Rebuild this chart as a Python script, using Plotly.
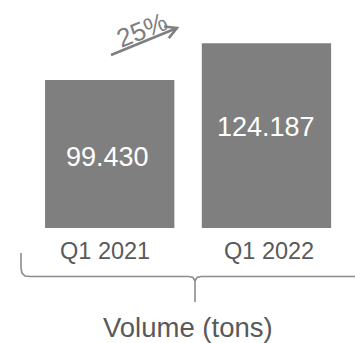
import math
import plotly.graph_objects as go

# Quarterly volume in tons
categories = ["Q1 2021", "Q1 2022"]
volumes = [99430, 124187]
axis_title = "Volume (tons)"

W, H = 355, 343
BAR = "#7f7f7f"
TEXT = "#595959"
LINE = "#8c8c8c"
FONT = "Arial, Liberation Sans, sans-serif"

growth = round((volumes[1] / volumes[0] - 1) * 100)

fig = go.Figure()
fig.add_trace(go.Bar(
    x=categories, y=volumes, width=0.825,
    marker=dict(color=BAR, line=dict(width=0)),
    hoverinfo="skip",
))


def px(x, y):
    """Pixel position on the canvas -> paper coordinates."""
    return x / W, 1 - y / H


def path(points):
    return " ".join(("M" if i == 0 else "L") + f" {px(*p)[0]:.5f},{px(*p)[1]:.5f}"
                    for i, p in enumerate(points))


annotations = []

# value labels inside the bars
value_shift = [(-2, -3), (0, 9)]
for c, v, (sx, sy) in zip(categories, volumes, value_shift):
    annotations.append(dict(
        x=c, y=v / 2, xref="x", yref="y", text=f"{v:,}".replace(",", "."),
        showarrow=False, xshift=sx, yshift=sy, xanchor="center", yanchor="middle",
        font=dict(family=FONT, size=27, color="white"),
    ))

# category labels under the bars
label_dx = [-5, 3]
for c, dx in zip(categories, label_dx):
    annotations.append(dict(
        x=c, y=0, xref="x", yref="y", text=c, showarrow=False,
        xanchor="center", yanchor="middle", yshift=-23, xshift=dx,
        font=dict(family=FONT, size=23.5, color=TEXT),
    ))

# axis caption under the brace
cx, cy = px(188, 327)
annotations.append(dict(
    x=cx, y=cy, xref="paper", yref="paper", text=axis_title, showarrow=False,
    xanchor="center", yanchor="middle",
    font=dict(family=FONT, size=27.5, color=TEXT),
))

# growth label along the arrow
tx, ty = px(142, 30)
annotations.append(dict(
    x=tx, y=ty, xref="paper", yref="paper", text=f"{growth}%", showarrow=False,
    xanchor="center", yanchor="middle",
    textangle=-22, font=dict(family=FONT, size=26, color=BAR),
))

shapes = []

# growth arrow
x0, y0, x1, y1 = 111, 55, 177, 28
ang = math.atan2(y1 - y0, x1 - x0)
head = 13
hl = (x1 - head * math.cos(ang - 0.5), y1 - head * math.sin(ang - 0.5))
hr = (x1 - head * math.cos(ang + 0.5), y1 - head * math.sin(ang + 0.5))
shapes.append(dict(type="path", xref="paper", yref="paper",
                   path=path([(x0, y0), (x1, y1)]),
                   line=dict(color=BAR, width=2.5)))
shapes.append(dict(type="path", xref="paper", yref="paper",
                   path=path([hl, (x1, y1), hr]),
                   line=dict(color=BAR, width=2.5)))

# curly brace under the categories
brace = [(21, 253), (21, 268), (22, 273), (25, 276), (30, 276.5), (189, 276.5),
         (193, 277.5), (195, 281), (195, 302)]
shapes.append(dict(type="path", xref="paper", yref="paper", path=path(brace),
                   line=dict(color=LINE, width=1.6)))
brace_r = [(195, 281), (197, 277.5), (201, 276.5), (355, 276.5)]
shapes.append(dict(type="path", xref="paper", yref="paper", path=path(brace_r),
                   line=dict(color=LINE, width=1.6)))

y_per_px = volumes[0] / 148
fig.update_layout(
    width=W, height=H,
    margin=dict(l=0, r=0, t=0, b=0),
    paper_bgcolor="white", plot_bgcolor="white",
    showlegend=False,
    xaxis=dict(range=[-0.700, 1.565], visible=False, fixedrange=True),
    yaxis=dict(range=[-(H - 228) * y_per_px, 228 * y_per_px], visible=False, fixedrange=True),
    annotations=annotations,
    shapes=shapes,
)

fig.write_html("out.html", config={"displayModeBar": False})
